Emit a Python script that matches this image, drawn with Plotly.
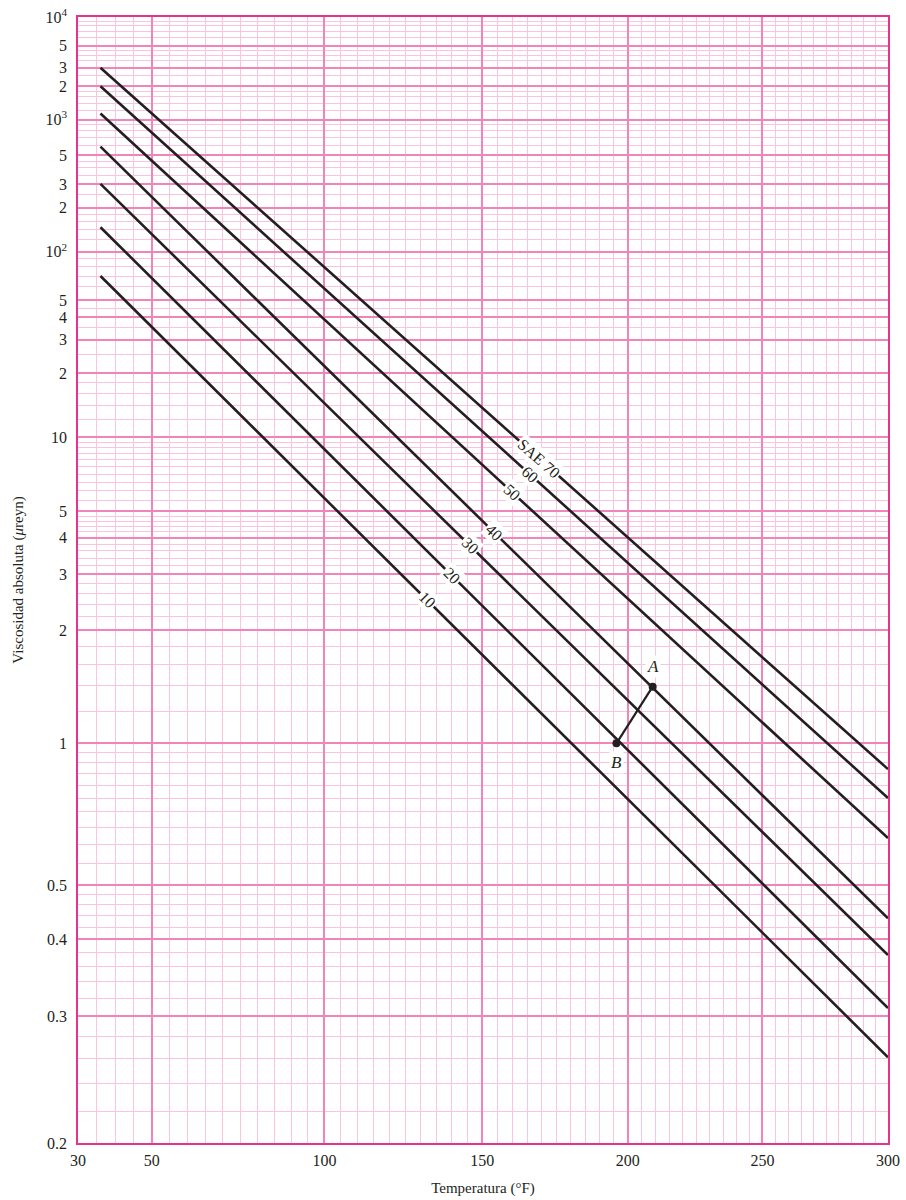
import numpy as np
import plotly.graph_objects as go

# SAE oil grades: viscosity (µreyn) read at the cold end and at 300 °F
sae_labels = ["SAE 70", "60", "50", "40", "30", "20", "10"]
line_temps = [36, 300]
visc_cold = [3000, 2000, 1130, 590, 300, 146, 70]
visc_hot = [0.87, 0.75, 0.618, 0.435, 0.376, 0.309, 0.261]
label_temps = [169, 166, 160, 154, 146, 140, 132]

# example points A and B
point_names = ["A", "B"]
point_temps = [209, 196]
point_visc = [1.39, 1.0]

x_ticks = [30, 50, 100, 150, 200, 250, 300]
y_ticks = [0.2, 0.3, 0.4, 0.5, 1, 2, 3, 4, 5, 10, 20, 30, 40, 50,
           100, 200, 300, 500, 1000, 2000, 3000, 5000, 10000]
y_ticktext = ["0.2", "0.3", "0.4", "0.5", "1", "2", "3", "4", "5", "10",
              "2", "3", "4", "5", "10<sup>2</sup>", "2", "3", "5",
              "10<sup>3</sup>", "2", "3", "5", "10<sup>4</sup>"]

fine_steps = [1.2, 1.4, 1.6, 1.8, 2, 2.2, 2.4, 2.6, 2.8, 3, 3.2, 3.4, 3.6, 3.8,
              4, 4.2, 4.4, 4.6, 4.8, 5, 5.5, 6, 6.5, 7, 7.5, 8, 8.5, 9, 9.5]
coarse_steps = [1.2, 1.4, 1.6, 1.8, 2, 2.5, 3, 3.5, 4, 4.5, 5, 6, 7, 8, 9]


# ASTM style chart: log of absolute temperature vs log-log of viscosity
def tx(t):
    return np.log10(np.asarray(t, dtype=float) + 459.67).tolist()


def ty(v):
    return np.log10(np.log10(10 * np.asarray(v, dtype=float) + 0.7)).tolist()


y_minor = []
for dec, steps in [(0.1, fine_steps), (1, fine_steps), (10, coarse_steps),
                   (100, coarse_steps), (1000, coarse_steps)]:
    for s in [1] + steps:
        v = round(dec * s, 6)
        if 0.2 < v < 10000 and v not in y_ticks:
            y_minor.append(v)
x_minor = [t for t in range(35, 300, 5) if t not in x_ticks]

MAJOR = "#F184B8"
MINOR = "#F9C4DC"
INK = "#231F20"
FONT = "Liberation Serif"

W_PX, H_PX = 810, 1126
x0, x1 = tx(30), tx(300)
y0, y1 = ty(0.2), ty(10000)

fig = go.Figure()
annotations = []
for name, vc, vh, tl in zip(sae_labels, visc_cold, visc_hot, label_temps):
    xs = tx(line_temps)
    ys = ty([vc, vh])
    fig.add_trace(go.Scatter(x=xs, y=ys, mode="lines",
                             line=dict(color=INK, width=2.6),
                             showlegend=False, hoverinfo="skip"))
    xl = tx(tl)
    yl = ys[0] + (ys[1] - ys[0]) * (xl - xs[0]) / (xs[1] - xs[0])
    dx = (xs[1] - xs[0]) / (x1 - x0) * W_PX
    dy = (ys[0] - ys[1]) / (y1 - y0) * H_PX
    ang = float(np.degrees(np.arctan2(dy, dx)))
    annotations.append(dict(x=xl, y=yl, text=name, showarrow=False,
                            textangle=ang, bgcolor="white", borderpad=1,
                            font=dict(family=FONT, size=16, color=INK)))

fig.add_trace(go.Scatter(x=tx(point_temps), y=ty(point_visc), mode="lines+markers",
                         line=dict(color=INK, width=2.2),
                         marker=dict(color=INK, size=8),
                         showlegend=False, hoverinfo="skip"))
for name, t, v, ys in zip(point_names, point_temps, point_visc, [20, -19]):
    annotations.append(dict(x=tx(t), y=ty(v), text="<i>%s</i>" % name,
                            showarrow=False, yshift=ys, bgcolor="white",
                            font=dict(family=FONT, size=17, color=INK)))

fig.update_layout(
    template="none",
    width=906, height=1200,
    margin=dict(l=78, r=18, t=17, b=57),
    paper_bgcolor="white", plot_bgcolor="white",
    font=dict(family=FONT, size=16, color=INK),
    annotations=annotations,
)
axis_common = dict(
    ticks="", showgrid=True, gridcolor=MAJOR, gridwidth=2,
    showline=True, mirror=True, linecolor="#E6338C", linewidth=1.6,
    zeroline=False, layer="below traces",
)
fig.update_xaxes(
    range=[x0, x1], tickmode="array", tickvals=tx(x_ticks),
    ticktext=[str(t) for t in x_ticks], ticklabelstandoff=2,
    minor=dict(tickmode="array", tickvals=tx(x_minor), showgrid=True,
               gridcolor=MINOR, gridwidth=1, ticks=""),
    title=dict(text="Temperatura (°F)", font=dict(family=FONT, size=15), standoff=14),
    **axis_common,
)
fig.update_yaxes(
    range=[y0, y1], tickmode="array", tickvals=ty(y_ticks), ticktext=y_ticktext,
    ticklabelstandoff=6,
    minor=dict(tickmode="array", tickvals=ty(y_minor), showgrid=True,
               gridcolor=MINOR, gridwidth=1, ticks=""),
    title=dict(text="Viscosidad absoluta (<i>μ</i>reyn)", font=dict(family=FONT, size=15), standoff=18),
    **axis_common,
)

fig.write_html("out.html", config={"displayModeBar": False},
               post_script="document.body.style.margin='0';")
